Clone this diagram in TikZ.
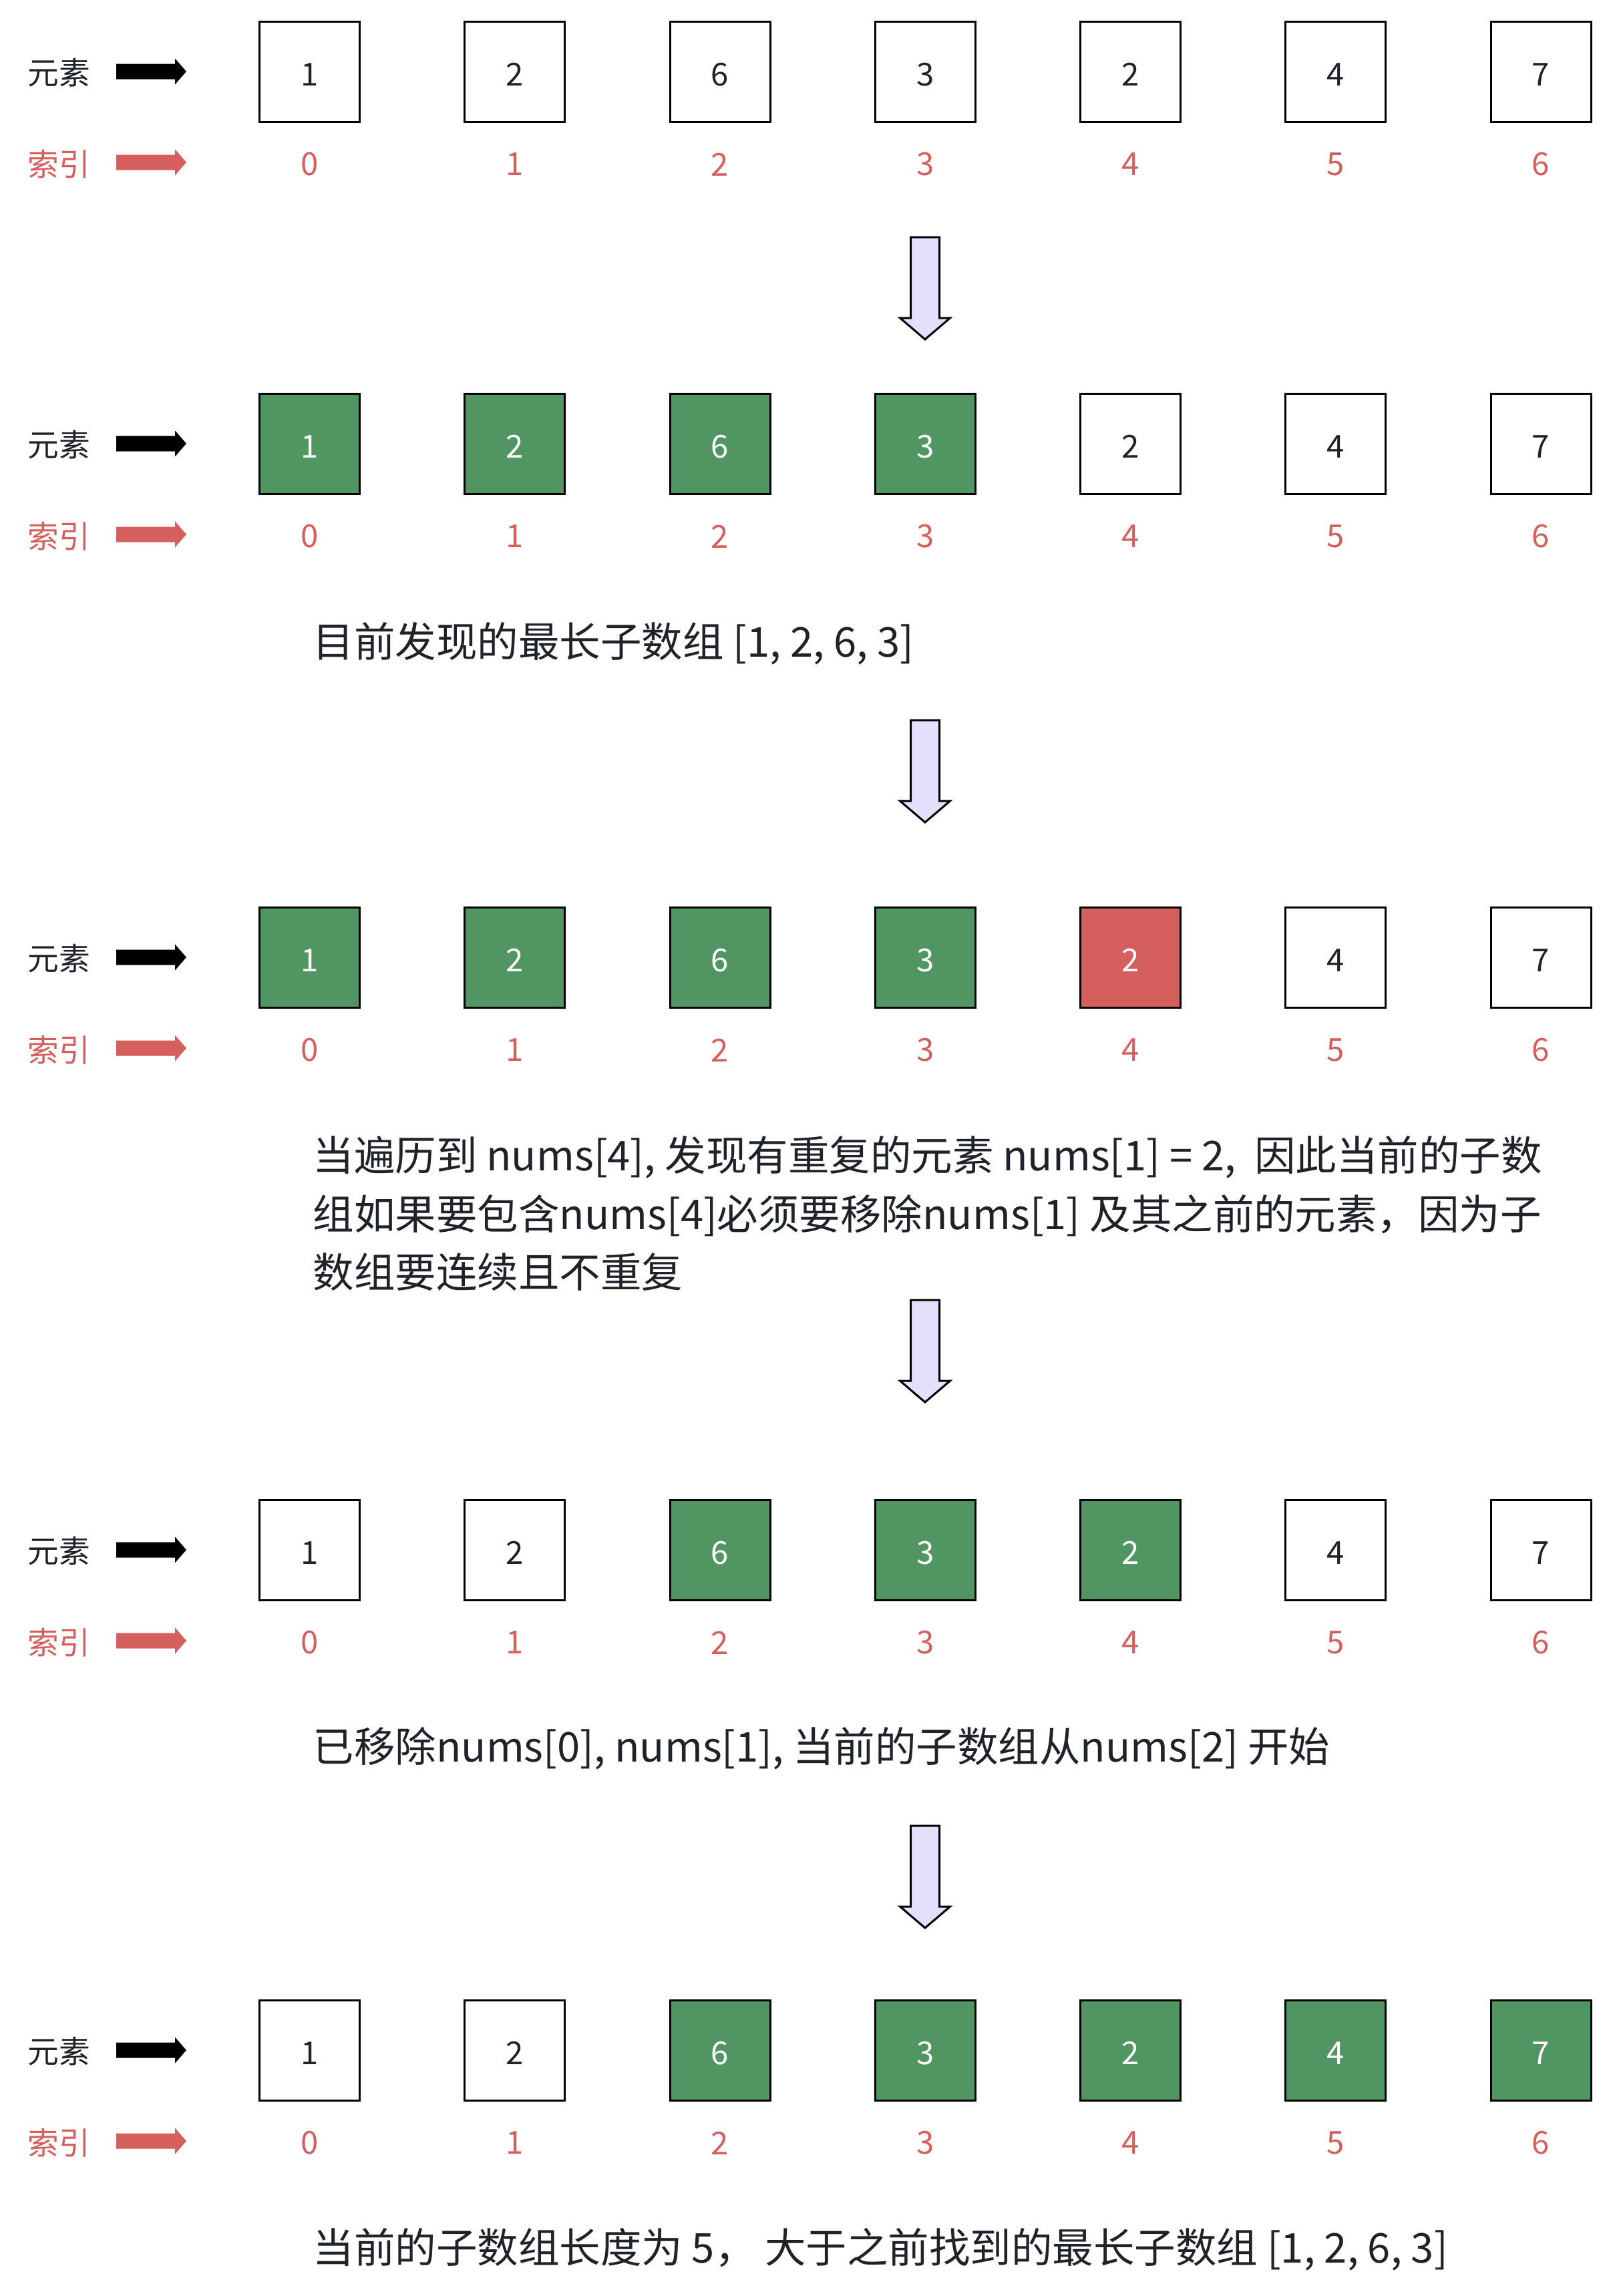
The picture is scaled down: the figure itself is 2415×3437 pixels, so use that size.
\documentclass[tikz,border=0pt]{standalone}
\usepackage{fontspec}
\setmainfont{Noto Sans CJK SC}
\definecolor{ink}{HTML}{1F2329}
\definecolor{grn}{HTML}{519662}
\definecolor{rd}{HTML}{D45F5C}
\definecolor{lav}{HTML}{E5DFFC}
\tikzset{
  cell/.style={draw=black, line width=0.9pt, minimum size=45pt, inner sep=0pt,
    text height=12.8pt, text depth=0pt,
    font=\fontsize{14.2}{17}\selectfont, text=ink},
  on/.style={cell, fill=grn, text=white},
  dup/.style={cell, fill=rd, text=white},
  idx/.style={inner sep=0pt, font=\fontsize{14.2}{17}\selectfont, text=rd},
  lbl/.style={inner sep=0pt, font=\fontsize{14}{17}\selectfont, text=ink},
  msg/.style={inner sep=0pt, anchor=base west, font=\fontsize{18.45}{26.4}\selectfont, text=ink},
  harrow/.pic={\fill[#1] (0,-11.5) -- (88,-11.5) -- (88,-19.5) -- (105,0) -- (88,19.5) -- (88,11.5) -- (0,11.5) -- cycle;},
  darrow/.pic={\draw[line width=0.9pt, fill=lav, line join=miter] (-21.5,0) -- (21.5,0) -- (21.5,121) -- (37.5,121) -- (0,153) -- (-37.5,121) -- (-21.5,121) -- cycle;}
}
\newcommand\arrayrow[3]{%
  \node[lbl] (#1e) at (88,#2+2) {元素};
  \node[lbl,text=rd] (#1s) at (88,#2+139) {索引};
  \pic at (174,#2) {harrow=black};
  \pic at (174,#2+136) {harrow=rd};
  \foreach \v/\s [count=\i from 0] in {#3} {
    \node[\s] (#1c\i) at ({463.5+307.25*\i},#2) {\v};
    \node[idx] (#1i\i) at ({463.5+307.25*\i},#2+139) {\i};
  }
}
\begin{document}
\begin{tikzpicture}[x=0.3pt, y=-0.3pt]
\useasboundingbox (0,0) rectangle (2415,3437);
\fill[white] (0,0) rectangle (2415,3437);
\arrayrow{ra}{107}{1/cell,2/cell,6/cell,3/cell,2/cell,4/cell,7/cell}
\pic at (1385,355) {darrow};
\arrayrow{rb}{664}{1/on,2/on,6/on,3/on,2/cell,4/cell,7/cell}
\node[msg] (t1) at (468,983) {目前发现的最长子数组 [1, 2, 6, 3]};
\pic at (1385,1078) {darrow};
\arrayrow{rc}{1433}{1/on,2/on,6/on,3/on,2/dup,4/cell,7/cell}
\node[msg] (t2a) at (468,1752) {当遍历到 nums[4], 发现有重复的元素 nums[1] = 2,\ \ 因此当前的子数};
\node[msg] (t2b) at (468,1840) {组如果要包含nums[4]必须要移除nums[1] 及其之前的元素，因为子};
\node[msg] (t2c) at (468,1927) {数组要连续且不重复};
\pic at (1385,1946) {darrow};
\arrayrow{rd}{2320}{1/cell,2/cell,6/on,3/on,2/on,4/cell,7/cell}
\node[msg] (t3) at (468,2637) {已移除nums[0], nums[1], 当前的子数组从nums[2] 开始};
\pic at (1385,2733) {darrow};
\arrayrow{re}{3069}{1/cell,2/cell,6/on,3/on,2/on,4/on,7/on}
\node[msg] (t4) at (468,3387) {当前的子数组长度为 5， 大于之前找到的最长子数组 [1, 2, 6, 3]};
\end{tikzpicture}
\end{document}
